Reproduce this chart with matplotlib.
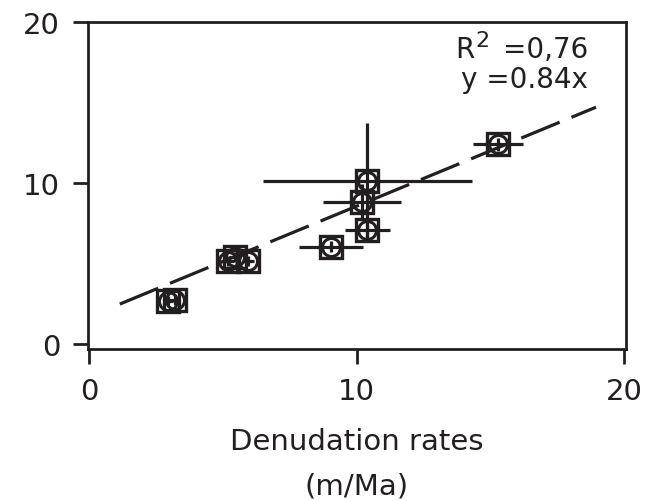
import matplotlib
matplotlib.use("Agg")
import matplotlib.pyplot as plt
import numpy as np

# denudation rates (x) vs. second rate estimate (y), with uncertainties
rate_x = [2.95, 3.2, 5.2, 5.45, 5.95, 9.05, 10.2, 10.4, 10.4, 15.3]
rate_y = [2.7, 2.75, 5.15, 5.4, 5.15, 6.05, 8.85, 7.05, 10.15, 12.4]
err_x = [0.2, 0.2, 0.2, 0.2, 0.2, 1.2, 1.45, 0.85, 3.9, 0.93]
err_y = [0.3, 0.3, 0.3, 0.3, 0.3, 0.35, 1.1, 0.4, 3.6, 0.4]

# regression line as drawn
fit_x = np.array([1.15, 18.95])
fit_slope = 0.687
fit_icpt = 1.69

ink = "#231f20"
plt.rcParams["font.family"] = ["DejaVu Sans"]
plt.rcParams["mathtext.default"] = "regular"

fig = plt.figure(figsize=(6.45, 5.02), dpi=100)
ax = fig.add_axes([0.1364, 0.3028, 0.8341, 0.6514])

ax.plot(fit_x, fit_slope * fit_x + fit_icpt, color=ink, lw=2.3,
        dashes=(13, 4), zorder=1)

ax.errorbar(rate_x, rate_y, xerr=err_x, yerr=err_y, fmt="none",
            ecolor=ink, elinewidth=2.3, capsize=0, zorder=2)
ax.plot(rate_x, rate_y, "s", ms=16, mfc="none", mec=ink, mew=2.4, zorder=3)
ax.plot(rate_x, rate_y, "o", ms=13, mfc="none", mec=ink, mew=2.2, zorder=3)

# equation text: R with a large raised 2, then the rest
ax.text(0.93, 0.893, "=0,76", transform=ax.transAxes,
        ha="right", va="baseline", fontsize=20, color=ink)
ax.annotate("2", xy=(0.93, 0.893), xycoords="axes fraction",
            xytext=(-71, 8), textcoords="offset points",
            ha="right", va="baseline", fontsize=16, color=ink)
ax.annotate("R", xy=(0.93, 0.893), xycoords="axes fraction",
            xytext=(-82, 0), textcoords="offset points",
            ha="right", va="baseline", fontsize=20, color=ink)
ax.text(0.93, 0.801, "y =0.84x", transform=ax.transAxes,
        ha="right", va="baseline", fontsize=20, color=ink)

ax.set_xlim(-0.04, 20.07)
ax.set_ylim(-0.31, 20)
ax.set_xticks([0, 10, 20])
ax.set_yticks([0, 10, 20])
ax.tick_params(direction="out", length=11, width=2, labelsize=21,
               colors=ink, pad=9)
for s in ax.spines.values():
    s.set_linewidth(2)
    s.set_color(ink)

ax.set_xlabel("Denudation rates\n(m/Ma)", fontsize=21, color=ink,
              labelpad=16, linespacing=1.75)

fig.savefig("out.png", dpi=100)
